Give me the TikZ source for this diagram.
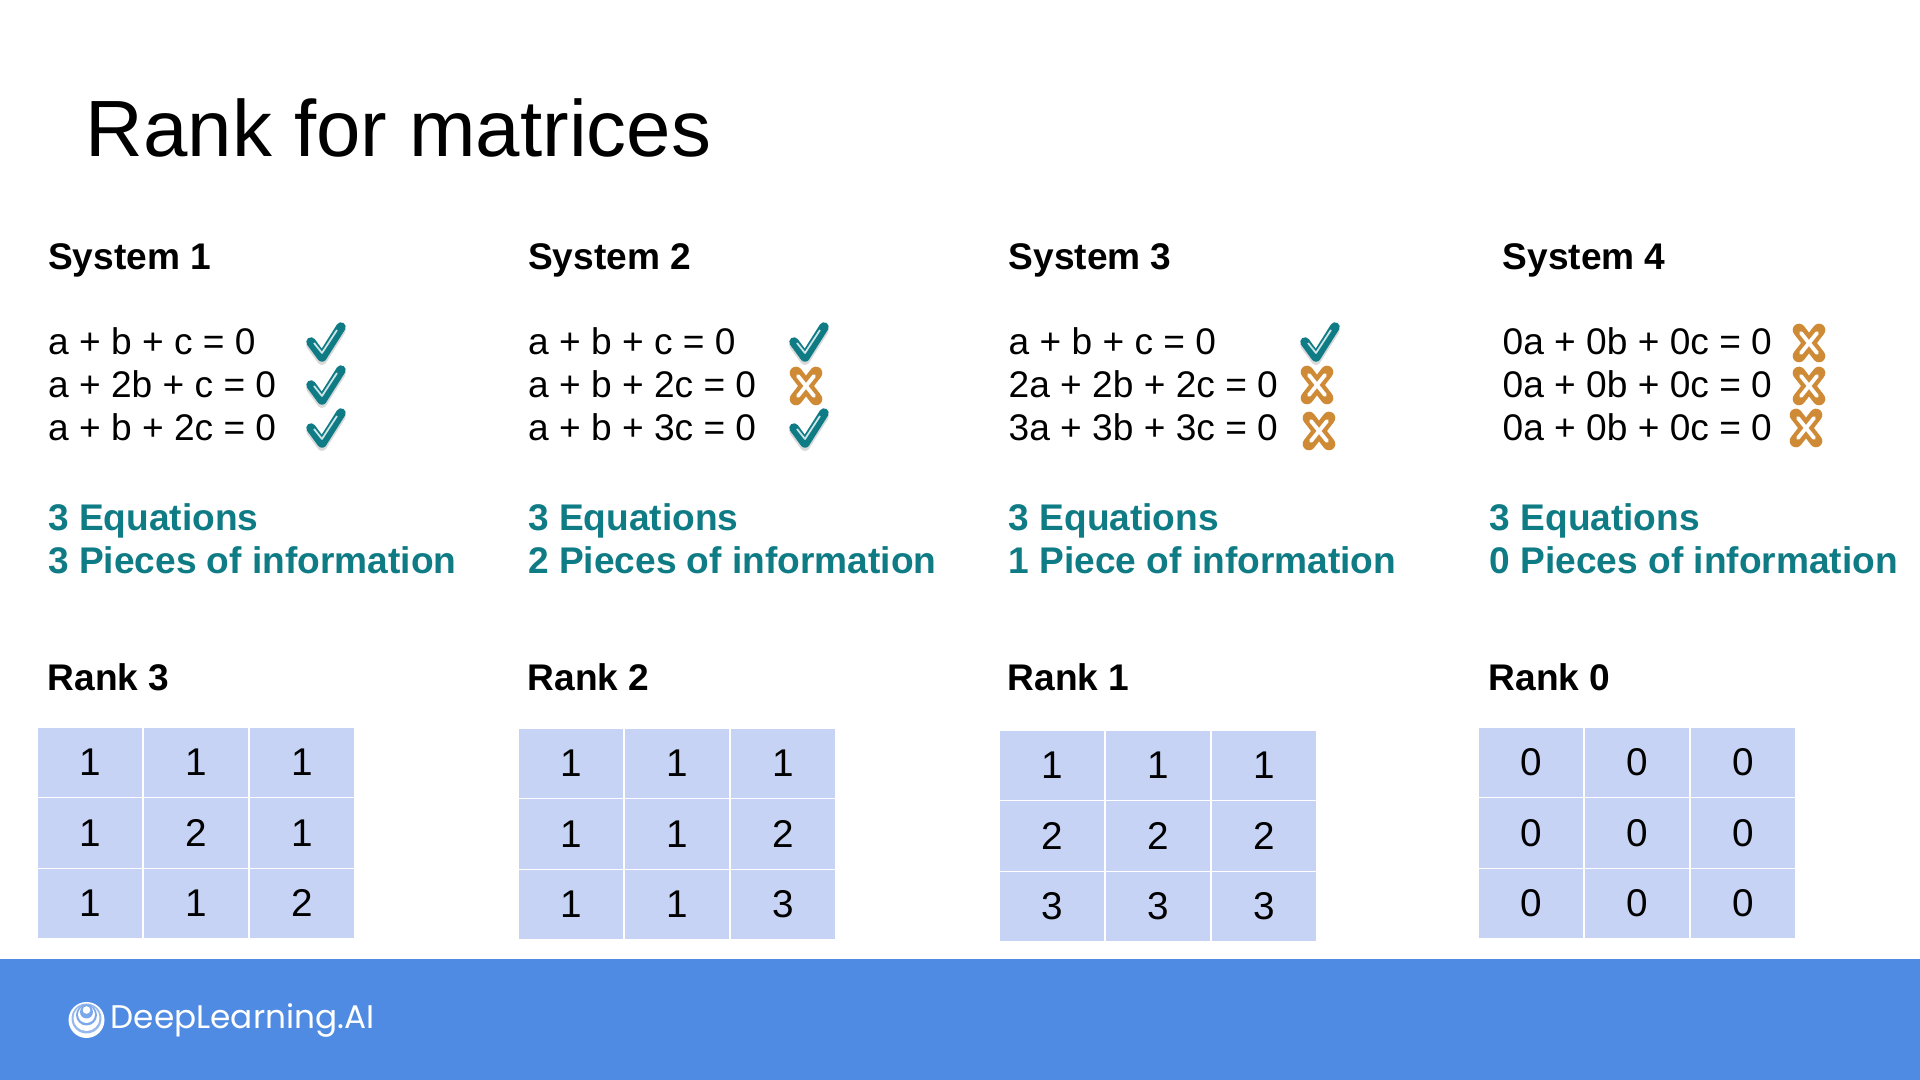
\documentclass[tikz,border=0pt]{standalone}
\usepackage{fontspec}
\setmainfont{Liberation Sans}
\newfontfamily\logofont{Poppins}
\usepackage{tikz}
\definecolor{tealtext}{HTML}{0F7C85}
\definecolor{bandblue}{HTML}{4F8BE3}
\definecolor{cellblue}{HTML}{C6D3F4}
\definecolor{crossorange}{HTML}{CF8A36}
\tikzset{
  txt/.style={anchor=base west, inner sep=0pt, font=\fontsize{10.55}{12}\selectfont},
  head/.style={txt, font=\fontsize{10.55}{12}\selectfont\bfseries},
  info/.style={head, text=tealtext},
  cell/.style={fill=cellblue, minimum width=1.04cm, minimum height=0.69cm, inner sep=0pt,
    font=\fontsize{11}{12}\selectfont},
  tickmark/.pic={
    \draw[black, opacity=.15, line width=2.8pt, line join=round, line cap=round] (-14,3)--(-3,18)--(16,-12);
    \draw[tealtext, line width=2.7pt, line join=round, line cap=round] (-14,0)--(-3,15)--(16,-15);
    \draw[white!80!tealtext, line width=.5pt, line join=round] (-11,1)--(-3,11)--(12,-12);
  },
  crossmark/.pic={
    \draw[crossorange, line width=3.6pt, line cap=round] (-10,-13)--(10,13) (10,-13)--(-10,13);
    \draw[white, line width=1.1pt, line cap=round] (-8,-10)--(8,10) (8,-10)--(-8,10);
  }
}

\begin{document}
\begin{tikzpicture}[x=0.01cm, y=-0.01cm]
  \useasboundingbox (0,0) rectangle (1920,1080);
  \fill[white] (0,0) rectangle (1920,1080);
  \fill[bandblue] (0,959) rectangle (1920,1080);

  \node[anchor=base west, inner sep=0pt, font=\fontsize{22.7}{26}\selectfont] (title) at (85,157) {Rank for matrices};

  % system columns
  \foreach \n/\xa/\xb/\xc/\pieces/\rank/\eqa/\eqb/\eqc in {
    1/47.5/47.5/47/{3 Pieces of information}/3/{a + b + c = 0}/{a + 2b + c = 0}/{a + b + 2c = 0},
    2/527.5/527.5/527/{2 Pieces of information}/2/{a + b + c = 0}/{a + b + 2c = 0}/{a + b + 3c = 0},
    3/1008/1008/1007/{1 Piece of information}/1/{a + b + c = 0}/{2a + 2b + 2c = 0}/{3a + 3b + 3c = 0},
    4/1502/1489/1488/{0 Pieces of information}/0/{0a + 0b + 0c = 0}/{0a + 0b + 0c = 0}/{0a + 0b + 0c = 0}} {
    \node[head] (sys\n) at (\xa,270) {System \n};
    \node[txt] (eq\n a) at (\xa,355) {\eqa};
    \node[txt] (eq\n b) at (\xa,398) {\eqb};
    \node[txt] (eq\n c) at (\xa,441) {\eqc};
    \node[info] (count\n) at (\xb,531) {3 Equations};
    \node[info] (info\n) at (\xb,574) {\pieces};
    \node[head] (rank\n) at (\xc,691) {Rank \rank};
  }

  % marks
  \foreach \px/\py in {325/342, 325/385, 325/428, 808/342, 808/428, 1319/342}
    \pic at (\px,\py) {tickmark};
  \foreach \px/\py in {806/386, 1317/385, 1319/431, 1809/343, 1809/386, 1806/428}
    \pic at (\px,\py) {crossmark};

  % matrices
  \foreach \t/\xo/\yo/\vals in {
    1/38/728/{1,1,1,1,2,1,1,1,2},
    2/519/729/{1,1,1,1,1,2,1,1,3},
    3/1000/731/{1,1,1,2,2,2,3,3,3},
    4/1479/728/{0,0,0,0,0,0,0,0,0}} {
    \foreach \v [count=\k from 0] in \vals {
      \pgfmathtruncatemacro{\cc}{mod(\k,3)}
      \pgfmathtruncatemacro{\rr}{div(\k,3)}
      \node[cell] (m\t-\rr-\cc) at ({\xo+52+106*\cc},{\yo+34.5+70.5*\rr}) {\v};
    }
  }

  % logo
  \fill[white] (86.5,1020) circle (18);
  \fill[bandblue!60!white] (86.5,1018.5) circle (15);
  \fill[white] (86.5,1018) circle (13);
  \fill[bandblue!75!white] (86.5,1015) circle (10.5);
  \fill[white] (86.5,1014.5) circle (8.5);
  \fill[bandblue!75!white] (86.5,1012) circle (6.5);
  \fill[white] (86.5,1010) circle (3.8);
  \node[anchor=base west, inner sep=0pt, text=white, font=\logofont\fontsize{9.3}{11}\selectfont] (brand) at (110,1029) {DeepLearning.AI};
\end{tikzpicture}
\end{document}
